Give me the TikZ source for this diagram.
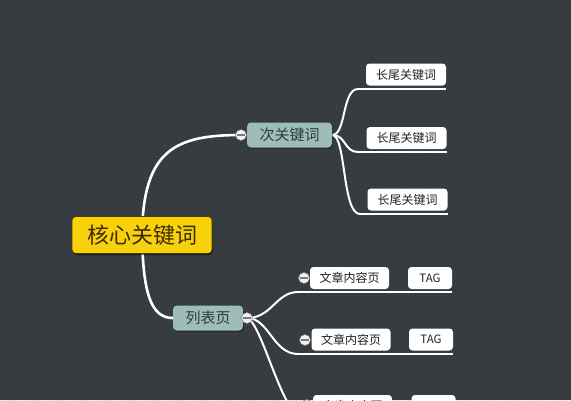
\documentclass[tikz,border=0pt]{standalone}
\usepackage{fontspec}
\newfontfamily\cjk{Noto Sans CJK SC}
\usetikzlibrary{patterns,shadows}
\definecolor{bgc}{HTML}{353B3E}
\definecolor{dotc}{HTML}{454C50}
\definecolor{corefill}{HTML}{F7D10B}
\definecolor{coretext}{HTML}{3A2D05}
\definecolor{secfill}{HTML}{9DBDB6}
\definecolor{sectext}{HTML}{2F3D3B}
\definecolor{leaftext}{HTML}{222222}
\definecolor{knobfill}{HTML}{F2F2F2}
\definecolor{knobline}{HTML}{7A7A7A}
\pgfdeclarelayer{back}
\pgfdeclarelayer{lines}
\pgfsetlayers{back,lines,main}
\tikzset{
  corebox/.style={rounded corners=4pt, fill=corefill, draw=black!70!corefill, line width=0.6pt,
    minimum width=140pt, minimum height=37pt, inner sep=0pt, text=coretext,
    font=\cjk\fontsize{22}{22}\selectfont,
    drop shadow={shadow xshift=1pt, shadow yshift=-1.5pt, fill=black, opacity=0.55}},
  secbox/.style={rounded corners=4pt, fill=secfill, minimum height=25pt, inner sep=0pt,
    text=sectext, font=\cjk\fontsize{15}{15}\selectfont,
    drop shadow={shadow xshift=0.8pt, shadow yshift=-1.2pt, fill=black, opacity=0.45}},
  leafbox/.style={rounded corners=3.5pt, fill=white, minimum height=22pt, inner sep=0pt,
    text=leaftext, font=\cjk\fontsize{12}{12}\selectfont},
  tagbox/.style={leafbox, minimum width=44pt, font=\cjk\fontsize{11.5}{11.5}\selectfont},
  knob/.style={circle, minimum size=11pt, inner sep=0pt, fill=knobfill, draw=knobline, line width=0.5pt,
    path picture={\draw[knobline, line width=1.2pt]
      ([xshift=-3.8pt]path picture bounding box.center) -- ([xshift=3.8pt]path picture bounding box.center);}},
  mainline/.style={draw=white, line width=2.6pt, line cap=round},
  subline/.style={draw=white, line width=2pt, line cap=round},
  uline/.style={draw=white, line width=1.8pt},
}
\begin{document}
\begin{tikzpicture}[x=1pt,y=-1pt]
\useasboundingbox (0,0) rectangle (571,400);
\begin{pgfonlayer}{back}
\fill[bgc] (0,0) rectangle (571,400);
\fill[pattern=dots, pattern color=dotc] (0,0) rectangle (571,400);
\end{pgfonlayer}

% nodes
\node[corebox] (core) at (142,235) {核心关键词};
\node[secbox, minimum width=85pt] (sec) at (289.5,135) {次关键词};
\node[knob] (k1) at (241,135) {};
\node[secbox, minimum width=70pt] (lb) at (208,318) {列表页};
\node[knob] (k2) at (247,318) {};

\node[leafbox, minimum width=80pt] (l1) at (406,74.5) {长尾关键词};
\node[leafbox, minimum width=80pt] (l2) at (406.5,138) {长尾关键词};
\node[leafbox, minimum width=80pt] (l3) at (407.5,199.5) {长尾关键词};

\node[knob] (a1) at (304,278) {};
\node[leafbox, minimum width=79pt] (d1) at (349.5,278) {文章内容页};
\node[tagbox] (t1) at (430,278) {TAG};
\node[knob] (a2) at (305,340) {};
\node[leafbox, minimum width=79pt] (d2) at (351,339.5) {文章内容页};
\node[tagbox] (t2) at (431,339.5) {TAG};
\node[knob] (a3) at (307,405) {};
\node[leafbox, minimum width=79pt] (d3) at (352.5,406) {文章内容页};
\node[tagbox] (t3) at (433.5,406) {TAG};

% underline start points
\coordinate (u1) at (358,89);
\coordinate (u2) at (358,152);
\coordinate (u3) at (360,214);
\coordinate (v1) at (298,292);
\coordinate (v2) at (298,354);
\coordinate (v3) at (305,420);

\begin{pgfonlayer}{lines}
\draw[mainline] (core.center) .. controls +(1,-85) and +(-66,0) .. (k1.center);
\draw[mainline] (core.center) .. controls +(1,55) and +(-23,0) .. (lb.west);
\draw[subline] (sec.east) .. controls +(14,0) and +(-16,0) .. (u1);
\draw[subline] (sec.east) .. controls +(14,0) and +(-14,0) .. (u2);
\draw[subline] (sec.east) .. controls +(14,0) and +(-18,0) .. (u3);
\draw[uline] (u1) -- (l1.south east |- u1);
\draw[uline] (u2) -- (l2.south east |- u2);
\draw[uline] (u3) -- (l3.south east |- u3);
\draw[subline] (k2.center) .. controls +(25,0) and +(-22,0) .. (v1);
\draw[subline] (k2.center) .. controls +(22,0) and +(-25,0) .. (v2);
\draw[subline] (k2.center) .. controls +(15,4) and +(-22,0) .. (v3);
\draw[uline] (v1) -- (t1.south east |- v1);
\draw[uline] (v2) -- (t2.south east |- v2);
\draw[uline] (v3) -- (t3.south east |- v3);
\end{pgfonlayer}
\end{tikzpicture}
\end{document}
